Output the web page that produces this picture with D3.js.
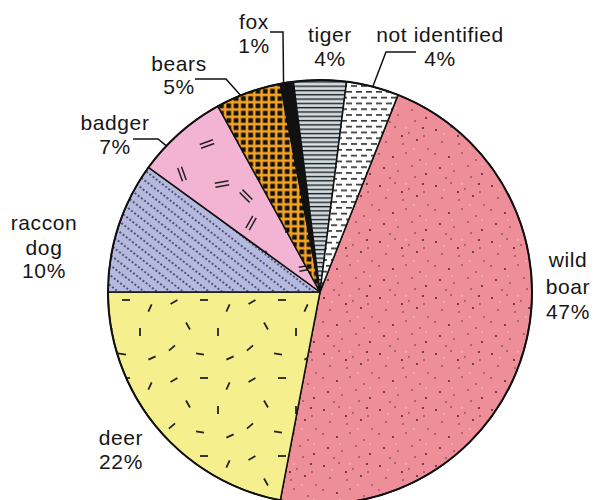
<!DOCTYPE html>
<html>
<head>
<meta charset="utf-8">
<script src="https://cdn.jsdelivr.net/npm/d3@7/dist/d3.min.js"></script>
<style>
  html, body { margin: 0; padding: 0; background: #ffffff; }
  svg { display: block; }
  text { font-family: "Liberation Sans", Arial, sans-serif; font-size: 21px; letter-spacing: 0.6px; fill: #161616; }
</style>
</head>
<body>
<svg id="chart" width="596" height="500"></svg>
<script>
// Share of identified species (percent), clockwise from the wild boar slice
const categories = ["wild boar", "deer", "raccon dog", "badger", "bears", "fox", "tiger", "not identified"];
const shares     = [47, 22, 10, 7, 5, 1, 4, 4];
const valueLabels = ["47%", "22%", "10%", "7%", "5%", "1%", "4%", "4%"];

const W = 596, H = 500;
const cx = 320, cy = 292, R = 212;
const startDeg = 21.6;

const svg = d3.select("#chart");
const defs = svg.append("defs");

// ---- fill textures -------------------------------------------------------
// wild boar: pink with scattered specks
{
  const p = defs.append("pattern").attr("id", "pBoar").attr("patternUnits", "userSpaceOnUse")
    .attr("width", 56).attr("height", 56);
  p.append("rect").attr("width", 56).attr("height", 56).attr("fill", "#ee8e99");
  const specks = [[4,6],[19,3],[33,9],[47,4],[10,18],[27,20],[41,16],[52,25],[3,30],[17,33],
                  [30,29],[44,36],[8,44],[22,47],[36,42],[50,50],[14,54],[39,53],[26,12],[48,12]];
  specks.forEach(([x, y], i) => p.append("circle").attr("cx", x).attr("cy", y)
    .attr("r", i % 3 === 0 ? 1.1 : 0.8).attr("fill", "#5c2b36"));
  const lights = [[12,10],[38,25],[20,40],[50,40],[30,4]];
  lights.forEach(([x, y]) => p.append("circle").attr("cx", x).attr("cy", y)
    .attr("r", 0.8).attr("fill", "#f8c6cc"));
}
// deer: yellow with short strokes in many directions
{
  const p = defs.append("pattern").attr("id", "pDeer").attr("patternUnits", "userSpaceOnUse")
    .attr("width", 78).attr("height", 78);
  p.append("rect").attr("width", 78).attr("height", 78).attr("fill", "#f6ef8d");
  const strokes = [[10,10,-30],[40,8,0],[64,16,-65],[24,34,60],[54,40,90],
                   [8,56,-40],[36,62,10],[66,66,-25]];
  strokes.forEach(([x, y, a]) => p.append("line")
    .attr("x1", -4).attr("x2", 4).attr("y1", 0).attr("y2", 0)
    .attr("transform", `translate(${x},${y}) rotate(${a})`)
    .attr("stroke", "#222").attr("stroke-width", 1.8));
}
// raccoon dog: lavender with dotted diagonals
{
  const p = defs.append("pattern").attr("id", "pRaccoon").attr("patternUnits", "userSpaceOnUse")
    .attr("width", 4).attr("height", 8).attr("patternTransform", "rotate(38)");
  p.append("rect").attr("width", 4).attr("height", 8).attr("fill", "#b5b9df");
  p.append("circle").attr("cx", 2).attr("cy", 4).attr("r", 0.95).attr("fill", "#2a2a3a");
}
// badger: pink with pairs of parallel dashes
{
  const p = defs.append("pattern").attr("id", "pBadger").attr("patternUnits", "userSpaceOnUse")
    .attr("width", 84).attr("height", 84);
  p.append("rect").attr("width", 84).attr("height", 84).attr("fill", "#f3b3d3");
  const pairs = [[15,15,-60],[55,20,-20],[30,50,70],[70,60,-10],[10,72,45]];
  pairs.forEach(([x, y, a]) => {
    const g = p.append("g").attr("transform", `translate(${x},${y}) rotate(${a})`);
    [-2, 2].forEach(o => g.append("line").attr("x1", -7).attr("x2", 7)
      .attr("y1", o).attr("y2", o).attr("stroke", "#222").attr("stroke-width", 1.5));
  });
}
// bears: black squares on an orange grid
{
  const s = 7.3;
  const p = defs.append("pattern").attr("id", "pBears").attr("patternUnits", "userSpaceOnUse")
    .attr("width", s).attr("height", s);
  p.append("rect").attr("width", s).attr("height", s).attr("fill", "#f6a322");
  p.append("rect").attr("x", 1.3).attr("y", 1.3).attr("width", 4.7).attr("height", 4.7).attr("fill", "#111");
}
// tiger: grey with horizontal rules
{
  const p = defs.append("pattern").attr("id", "pTiger").attr("patternUnits", "userSpaceOnUse")
    .attr("width", 10).attr("height", 4.3);
  p.append("rect").attr("width", 10).attr("height", 4.3).attr("fill", "#bcc7cd");
  p.append("rect").attr("y", 2.3).attr("width", 10).attr("height", 0.9).attr("fill", "#e4ebee");
  p.append("rect").attr("y", 0).attr("width", 10).attr("height", 1.2).attr("fill", "#1c1c1c");
}
// not identified: white with staggered short dashes
{
  const p = defs.append("pattern").attr("id", "pUnknown").attr("patternUnits", "userSpaceOnUse")
    .attr("width", 10).attr("height", 11.6);
  p.append("rect").attr("width", 10).attr("height", 11.6).attr("fill", "#ffffff");
  p.append("rect").attr("x", 1).attr("y", 2).attr("width", 6).attr("height", 1.6).attr("fill", "#2a2a2a");
  p.append("rect").attr("x", 6).attr("y", 7.8).attr("width", 4).attr("height", 1.6).attr("fill", "#2a2a2a");
  p.append("rect").attr("x", 0).attr("y", 7.8).attr("width", 2).attr("height", 1.6).attr("fill", "#2a2a2a");
}

const fills = ["url(#pBoar)", "url(#pDeer)", "url(#pRaccoon)", "url(#pBadger)",
               "url(#pBears)", "#111111", "url(#pTiger)", "url(#pUnknown)"];

// ---- pie -----------------------------------------------------------------
const rad = d => d * Math.PI / 180;
const pie = d3.pie().sort(null).value(d => d.v)
  .startAngle(rad(startDeg)).endAngle(rad(startDeg) + 2 * Math.PI);
const arcs = pie(categories.map((c, i) => ({ c, v: shares[i], i })));
const arc = d3.arc().innerRadius(0).outerRadius(R);

const g = svg.append("g").attr("transform", `translate(${cx},${cy})`);
g.selectAll("path.slice").data(arcs).join("path")
  .attr("class", "slice")
  .attr("d", arc)
  .attr("fill", d => fills[d.data.i])
  .attr("stroke", "#111").attr("stroke-width", 1.5).attr("stroke-linejoin", "round");
g.append("circle").attr("r", R).attr("fill", "none").attr("stroke", "#111").attr("stroke-width", 2);

// ---- labels --------------------------------------------------------------
// name lines and value line per category, placed around the pie
const labelLayout = {
  "wild boar":      { x: 568, lines: [["wild", 267], ["boar", 294]], vy: 319 },
  "deer":           { x: 121, lines: [["deer", 445]], vy: 469 },
  "raccon dog":     { x: 44,  lines: [["raccon", 230], ["dog", 255]], vy: 278 },
  "badger":         { x: 115, lines: [["badger", 130]], vy: 154 },
  "bears":          { x: 179, lines: [["bears", 71]], vy: 94 },
  "fox":            { x: 254, lines: [["fox", 29]], vy: 53 },
  "tiger":          { x: 330, lines: [["tiger", 42]], vy: 66 },
  "not identified": { x: 440, lines: [["not identified", 42]], vy: 66 }
};
categories.forEach((c, i) => {
  const L = labelLayout[c];
  L.lines.forEach(([t, y]) => svg.append("text").attr("x", L.x).attr("y", y)
    .attr("text-anchor", "middle").text(t));
  svg.append("text").attr("x", L.x).attr("y", L.vy).attr("text-anchor", "middle").text(valueLabels[i]);
});

// ---- leader lines from small-slice labels to the rim ---------------------
const rimPoint = (a) => [cx + R * Math.sin(a), cy - R * Math.cos(a)];
const leaders = [
  { c: "bears",          f: 0.38, pts: [[195, 79], [226, 79]] },
  { c: "badger",         f: 0.30, pts: [[133, 139], [158, 139]] },
  { c: "fox",            f: 0.25, pts: [[270, 32], [283, 32]] },
  { c: "not identified", f: 0.50, pts: [[416, 52], [386, 52]] }
];
leaders.forEach(l => {
  const a = arcs[categories.indexOf(l.c)];
  const end = rimPoint(a.startAngle + l.f * (a.endAngle - a.startAngle));
  svg.append("path")
    .attr("d", d3.line()([...l.pts, end]))
    .attr("fill", "none").attr("stroke", "#111").attr("stroke-width", 1.5);
});
</script>
</body>
</html>
